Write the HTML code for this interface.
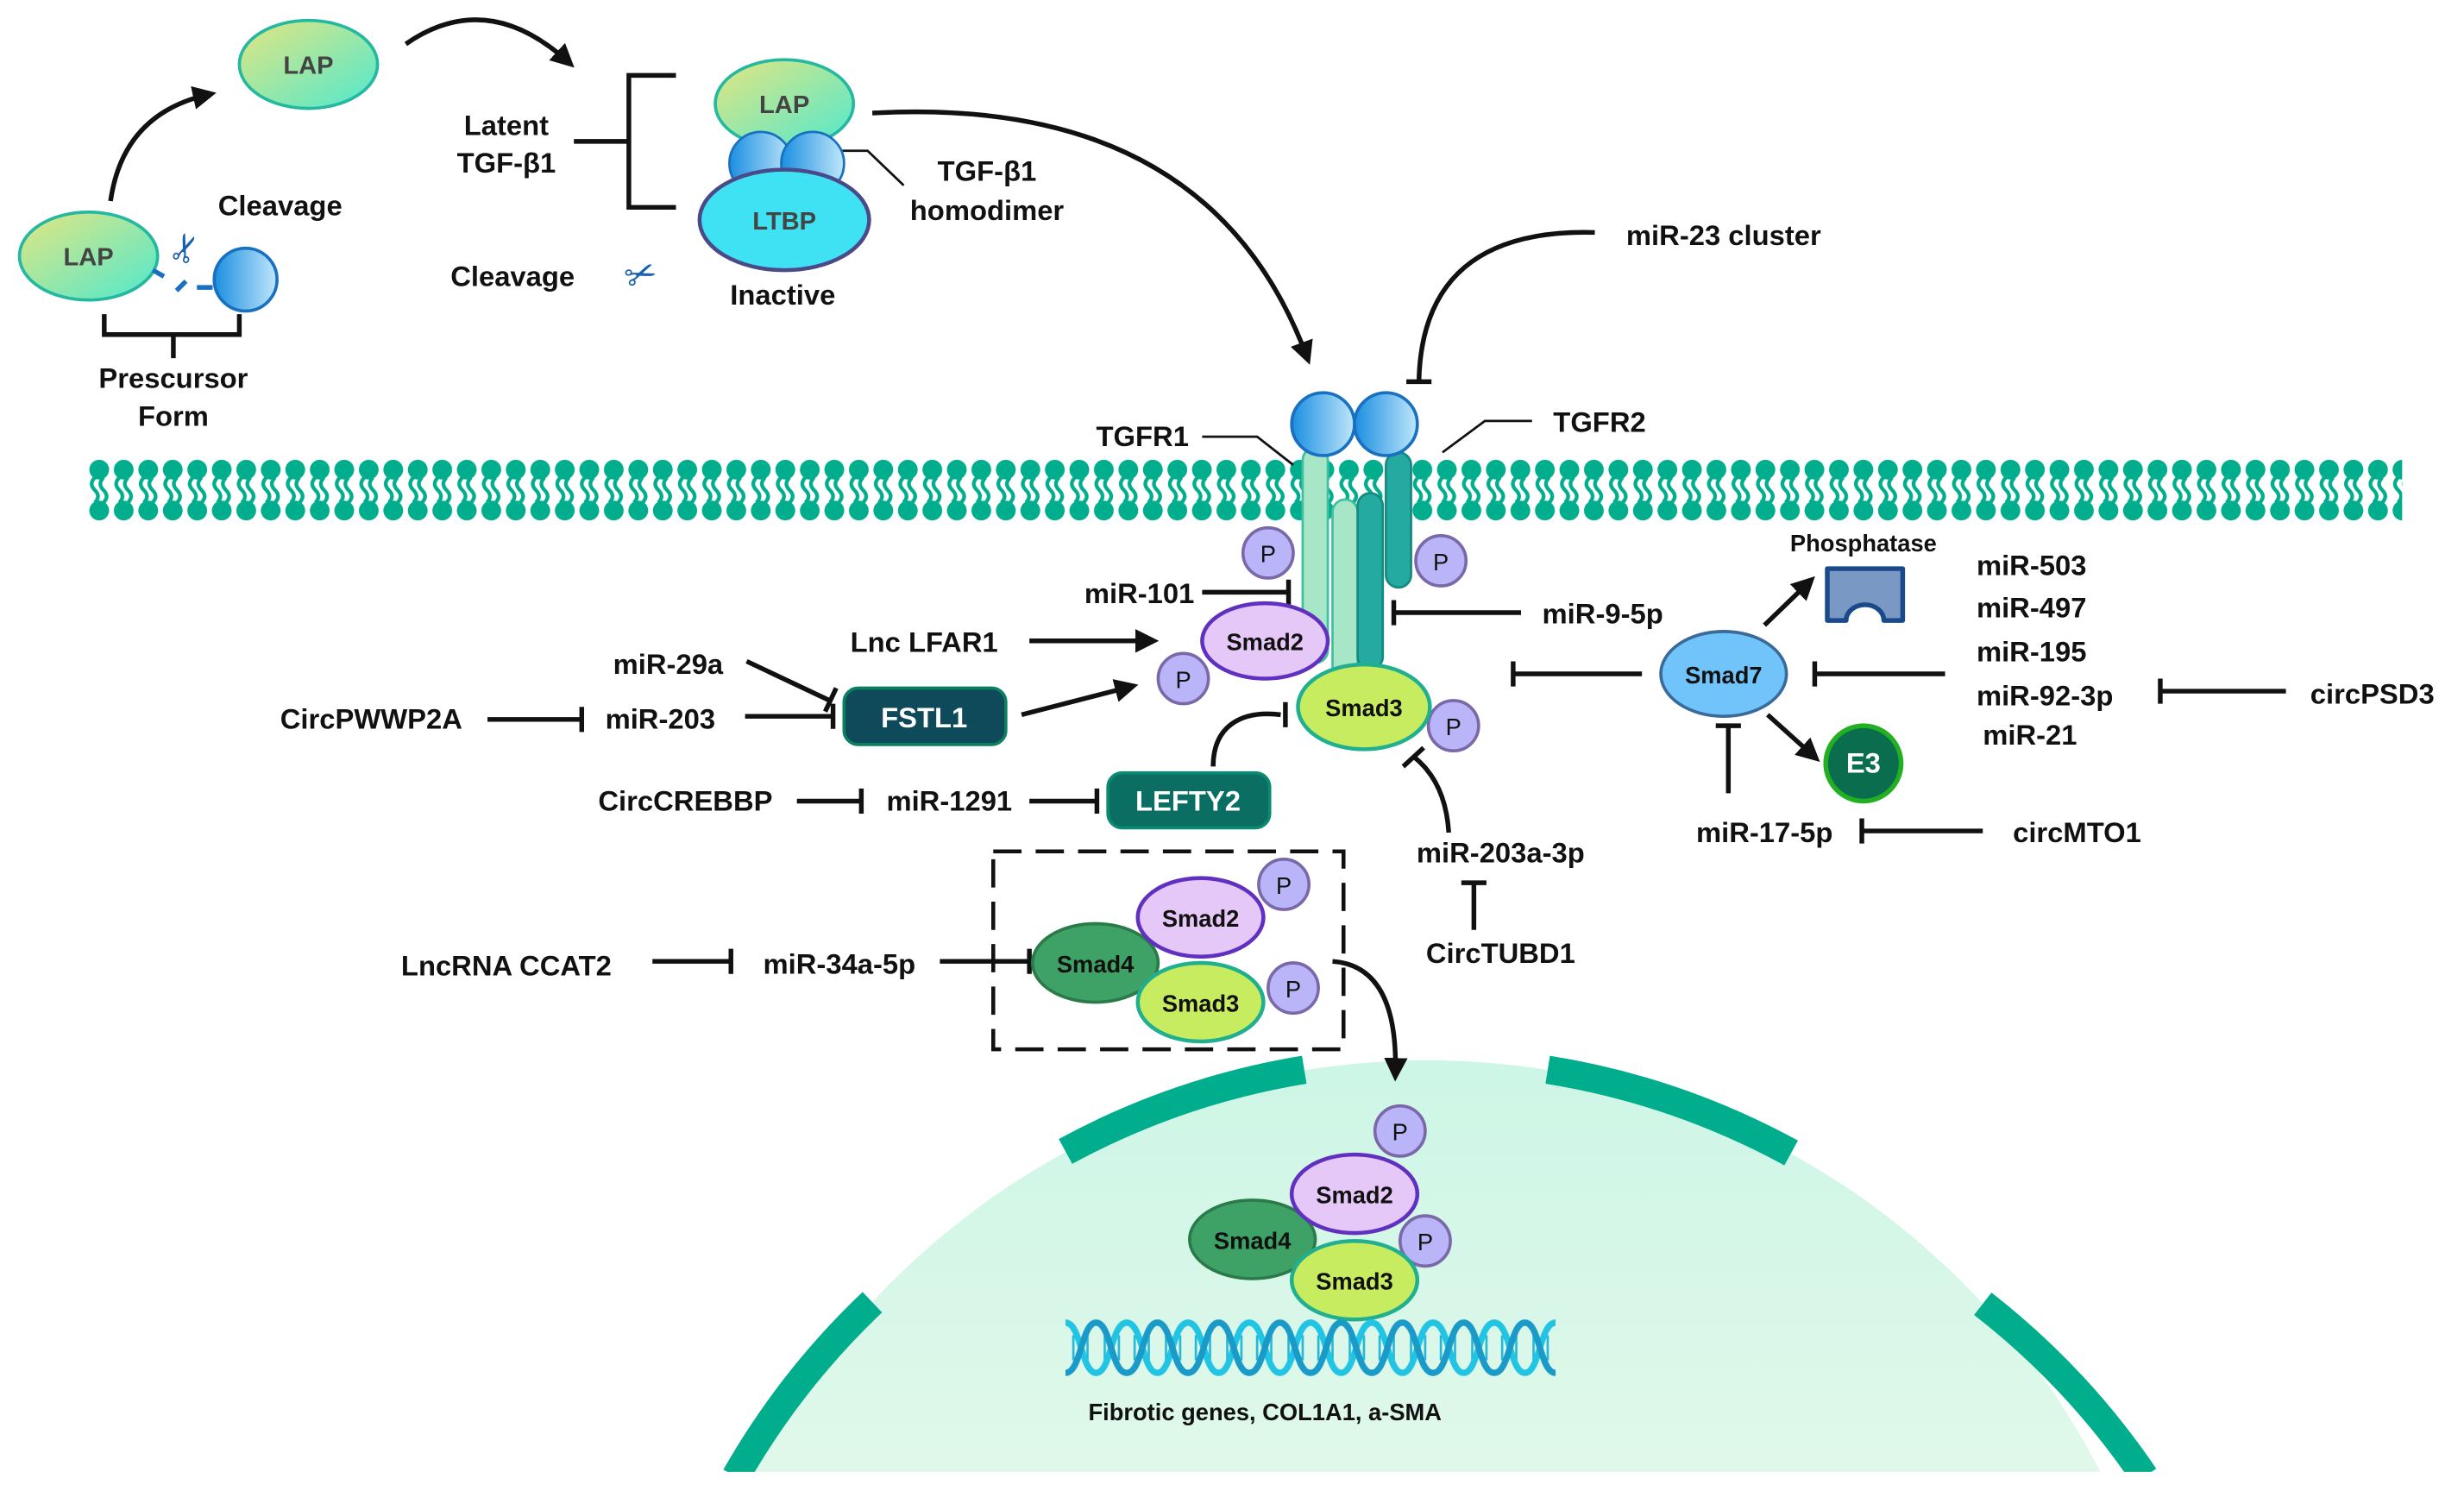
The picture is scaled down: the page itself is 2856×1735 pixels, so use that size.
<!DOCTYPE html>
<html><head><meta charset="utf-8"><style>
html,body{margin:0;padding:0;background:#fff;width:2856px;height:1735px;overflow:hidden;}
svg{display:block;}
text{font-family:"Liberation Sans",Arial,sans-serif;font-weight:bold;fill:#111;}
</style></head><body>
<svg width="2856" height="1735" viewBox="0 0 1568 953" xmlns="http://www.w3.org/2000/svg">
<defs>
<linearGradient id="lap" x1="0" y1="0" x2="1" y2="1"><stop offset="0" stop-color="#e4e680"/><stop offset="1" stop-color="#4fe8cf"/></linearGradient>
<linearGradient id="blu" x1="0" y1="0" x2="1" y2="0"><stop offset="0" stop-color="#1b8fe0"/><stop offset="1" stop-color="#bfe6fb"/></linearGradient>
<linearGradient id="nuc" x1="0" y1="0" x2="0" y2="1"><stop offset="0" stop-color="#cdf6e6"/><stop offset="0.55" stop-color="#f3faee"/><stop offset="1" stop-color="#ffffff"/></linearGradient>
<marker id="ah" markerWidth="5" markerHeight="5" refX="3.5" refY="2.5" orient="auto" markerUnits="strokeWidth"><path d="M0,0 L5,2.5 L0,5 Z" fill="#111"/></marker>
<pattern id="mem" x="55" y="292" width="15.6" height="40" patternUnits="userSpaceOnUse">
<circle cx="7.8" cy="7" r="6.3" fill="#00ad8c"/><circle cx="7.8" cy="33" r="6.3" fill="#00ad8c"/>
<path d="M5,12 q-4,4 0,8 q4,4 0,8 M10.5,12 q-4,4 0,8 q4,4 0,8" stroke="#00ad8c" stroke-width="2.4" fill="none"/>
</pattern>
<pattern id="dna" x="678" y="838" width="39" height="40" patternUnits="userSpaceOnUse">
<path d="M5,12V28M10,18V22M14,12V28M25,12V28M29,18V22M34,12V28" stroke="#2ab8d8" stroke-width="1.5"/>
<path d="M0,4 C10,4 10,36 19.5,36 C29,36 29,4 39,4" stroke="#22c4e4" stroke-width="4" fill="none"/>
<path d="M0,36 C10,36 10,4 19.5,4 C29,4 29,36 39,36" stroke="#1a9ac8" stroke-width="4" fill="none"/>
</pattern>
<clipPath id="cb"><rect x="0" y="0" width="1568" height="937"/></clipPath>
</defs>

<g clip-path="url(#cb)">
<circle cx="908" cy="1157" r="482" fill="url(#nuc)"/>
<g stroke="#00ad8c" stroke-width="18" fill="none">
<path d="M468,940 A482,482 0 0 1 555,829"/>
<path d="M678,733 A482,482 0 0 1 830,681"/>
<path d="M985,681 A482,482 0 0 1 1140,734"/>
<path d="M1262,830 A482,482 0 0 1 1365,940"/>
</g>
</g>

<rect x="55" y="292" width="1474" height="40" fill="url(#mem)"/>

<g stroke="#111" stroke-width="3" fill="none">
<path d="M70,128 Q78,72 133,60" marker-end="url(#ah)"/>
<path d="M258,28 Q310,-8 362,40" marker-end="url(#ah)"/>
<path d="M66,200V213H152V200M110,213V228"/>
<path d="M430,48H400V132H430M365,90H400"/>
<path d="M555,72 Q770,60 832,228" marker-end="url(#ah)"/>
<path d="M1015,148 Q905,145 903,243"/><path d="M895,243H911"/>
<path d="M765,278H800L823,296" stroke-width="1.5"/>
<path d="M975,268H945L918,288" stroke-width="1.5"/>
<path d="M525,96H552L575,118" stroke-width="1.5"/>
<path d="M765,377H820M820,369V385"/>
<path d="M968,390H887M887,382V398"/>
<path d="M655,408H733" marker-end="url(#ah)"/>
<path d="M475,421L528,446M532,438L525,453"/>
<path d="M310,458H370M370,450V466"/>
<path d="M474,456H530M530,448V464"/>
<path d="M650,455L720,437" marker-end="url(#ah)"/>
<path d="M507,510H548M548,502V518"/>
<path d="M655,510H698M698,502V518"/>
<path d="M772,488 C772,462 790,452 815,455M818,447V463"/>
<path d="M922,530 Q920,498 900,482M893,488L906,476"/>
<path d="M938,592V562M930,562H946"/>
<path d="M1045,429H963M963,421V437"/>
<path d="M1238,429H1155M1155,421V437"/>
<path d="M1123,398L1152,370" marker-end="url(#ah)"/>
<path d="M1125,455L1155,482" marker-end="url(#ah)"/>
<path d="M1455,440H1375M1375,432V448"/>
<path d="M1100,505V462M1092,462H1108"/>
<path d="M1262,529H1185M1185,521V537"/>
<path d="M415,612H465M465,604V620"/>
<path d="M598,612H655M655,604V620"/>
<path d="M848,612 Q890,615 888,684" marker-end="url(#ah)"/>
<rect x="632" y="542" width="223" height="126" stroke-dasharray="18 9" stroke-width="2.5"/>
</g>

<ellipse cx="196" cy="41" rx="44" ry="28" fill="url(#lap)" stroke="#25b8a0" stroke-width="2"/>
<ellipse cx="56" cy="163" rx="44" ry="28" fill="url(#lap)" stroke="#25b8a0" stroke-width="2"/>
<circle cx="156" cy="178" r="20" fill="url(#blu)" stroke="#1a70c0" stroke-width="2"/>
<path d="M97,172 L104,176 M112,185l6,-6 M125,183h10" stroke="#1a70c0" stroke-width="3"/>
<text x="118" y="166" font-size="24" style="fill:#1a60b0;font-weight:normal" transform="rotate(-70 118 158)" text-anchor="middle">✂</text>
<text x="408" y="183" font-size="24" style="fill:#1a60b0;font-weight:normal" text-anchor="middle" transform="rotate(-20 408 176)">✂</text>

<ellipse cx="499" cy="66" rx="44" ry="28" fill="url(#lap)" stroke="#25b8a0" stroke-width="2"/>
<circle cx="484" cy="104" r="20" fill="url(#blu)" stroke="#1a70c0" stroke-width="1.5"/>
<circle cx="517" cy="104" r="20" fill="url(#blu)" stroke="#1a70c0" stroke-width="1.5"/>
<ellipse cx="499" cy="140" rx="54" ry="32" fill="#3fe2f2" stroke="#4a4a8a" stroke-width="2.5"/>

<rect x="829" y="285" width="16" height="137" rx="8" fill="#a8e6c8" stroke="#40c0a0" stroke-width="1.5"/>
<rect x="848" y="318" width="16" height="135" rx="8" fill="#a8e6c8" stroke="#40c0a0" stroke-width="1.5"/>
<rect x="864" y="314" width="16" height="112" rx="8" fill="#24aaa0" stroke="#178a80" stroke-width="1.5"/>
<rect x="882" y="288" width="16" height="86" rx="8" fill="#24aaa0" stroke="#178a80" stroke-width="1.5"/>
<circle cx="842" cy="270" r="20" fill="url(#blu)" stroke="#1a70c0" stroke-width="2"/>
<circle cx="882" cy="270" r="20" fill="url(#blu)" stroke="#1a70c0" stroke-width="2"/>

<g stroke="#7a68a8" stroke-width="2" fill="#b9b5f8">
<circle cx="807" cy="352" r="16"/><circle cx="917" cy="357" r="16"/>
<circle cx="753" cy="432" r="16"/><circle cx="925" cy="462" r="16"/>
<circle cx="817" cy="563" r="16"/><circle cx="823" cy="629" r="16"/>
<circle cx="891" cy="720" r="16"/><circle cx="907" cy="790" r="16"/>
</g>
<ellipse cx="805" cy="408" rx="40" ry="24" fill="#e6c8f8" stroke="#6030c0" stroke-width="2.5"/>
<ellipse cx="868" cy="450" rx="42" ry="27" fill="#c8ec60" stroke="#20b090" stroke-width="2.5"/>

<ellipse cx="697" cy="613" rx="40" ry="25" fill="#3ea266" stroke="#2a7a4a" stroke-width="2"/>
<ellipse cx="764" cy="584" rx="40" ry="25" fill="#e6c8f8" stroke="#6030c0" stroke-width="2.5"/>
<ellipse cx="764" cy="638" rx="40" ry="25" fill="#c8ec60" stroke="#20b090" stroke-width="2.5"/>

<ellipse cx="797" cy="789" rx="40" ry="25" fill="#3ea266" stroke="#2a7a4a" stroke-width="2"/>
<ellipse cx="862" cy="760" rx="40" ry="25" fill="#e6c8f8" stroke="#6030c0" stroke-width="2.5"/>
<ellipse cx="862" cy="815" rx="40" ry="25" fill="#c8ec60" stroke="#20b090" stroke-width="2.5"/>
<rect x="678" y="838" width="312" height="40" fill="url(#dna)"/>

<rect x="537" y="438" width="103" height="36" rx="9" fill="#0e4a5a" stroke="#0a8060" stroke-width="2"/>
<rect x="705" y="492" width="103" height="35" rx="9" fill="#0b6e62" stroke="#0a8a70" stroke-width="2"/>

<ellipse cx="1097" cy="429" rx="40" ry="27" fill="#70c4fa" stroke="#3a6a9a" stroke-width="2"/>
<circle cx="1186" cy="486" r="24" fill="#0a6e4e" stroke="#22b022" stroke-width="3"/>
<path d="M1163,362 h48 v33 h-12 a12,10 0 0 0 -24,0 h-12 z" fill="#7a98c4" stroke="#1a4a8a" stroke-width="3" stroke-linejoin="round"/>

<g font-size="18" text-anchor="middle">
<text x="196" y="47" font-size="16" style="fill:#444">LAP</text>
<text x="56" y="169" font-size="16" style="fill:#444">LAP</text>
<text x="499" y="72" font-size="16" style="fill:#444">LAP</text>
<text x="499" y="146" font-size="16" style="fill:#444">LTBP</text>
<text x="178" y="137">Cleavage</text>
<text x="110" y="247">Prescursor</text>
<text x="110" y="271">Form</text>
<text x="322" y="86">Latent</text>
<text x="322" y="110">TGF-β1</text>
<text x="326" y="182">Cleavage</text>
<text x="498" y="194">Inactive</text>
<text x="628" y="115">TGF-β1</text>
<text x="628" y="140">homodimer</text>
<text x="1097" y="156">miR-23 cluster</text>
<text x="727" y="284">TGFR1</text>
<text x="1018" y="275">TGFR2</text>
<text x="725" y="384">miR-101</text>
<text x="1020" y="397">miR-9-5p</text>
<text x="588" y="415">Lnc LFAR1</text>
<text x="425" y="429">miR-29a</text>
<text x="236" y="464">CircPWWP2A</text>
<text x="420" y="464">miR-203</text>
<text x="436" y="516">CircCREBBP</text>
<text x="604" y="516">miR-1291</text>
<text x="955" y="549">miR-203a-3p</text>
<text x="955" y="613">CircTUBD1</text>
<text x="322" y="621">LncRNA CCAT2</text>
<text x="534" y="620">miR-34a-5p</text>
<text x="1123" y="536">miR-17-5p</text>
<text x="1322" y="536">circMTO1</text>
<text x="1510" y="448">circPSD3</text>
<text x="588" y="463" style="fill:#fff">FSTL1</text>
<text x="756" y="516" style="fill:#fff">LEFTY2</text>
<text x="1186" y="492" style="fill:#fff">E3</text>
<text x="1186" y="351" font-size="15">Phosphatase</text>
<text x="805" y="904" font-size="15">Fibrotic genes, COL1A1, a-SMA</text>
</g>
<g font-size="18" text-anchor="start">
<text x="1258" y="366">miR-503</text>
<text x="1258" y="393">miR-497</text>
<text x="1258" y="421">miR-195</text>
<text x="1258" y="449">miR-92-3p</text>
<text x="1262" y="474">miR-21</text>
</g>
<g font-size="15" text-anchor="middle">
<text x="805" y="414">Smad2</text>
<text x="868" y="456">Smad3</text>
<text x="1097" y="435">Smad7</text>
<text x="697" y="619">Smad4</text>
<text x="764" y="590">Smad2</text>
<text x="764" y="644">Smad3</text>
<text x="797" y="795">Smad4</text>
<text x="862" y="766">Smad2</text>
<text x="862" y="821">Smad3</text>
<text x="807" y="358" style="font-weight:normal">P</text>
<text x="917" y="363" style="font-weight:normal">P</text>
<text x="753" y="438" style="font-weight:normal">P</text>
<text x="925" y="468" style="font-weight:normal">P</text>
<text x="817" y="569" style="font-weight:normal">P</text>
<text x="823" y="635" style="font-weight:normal">P</text>
<text x="891" y="726" style="font-weight:normal">P</text>
<text x="907" y="796" style="font-weight:normal">P</text>
</g>
</svg>
</body></html>
